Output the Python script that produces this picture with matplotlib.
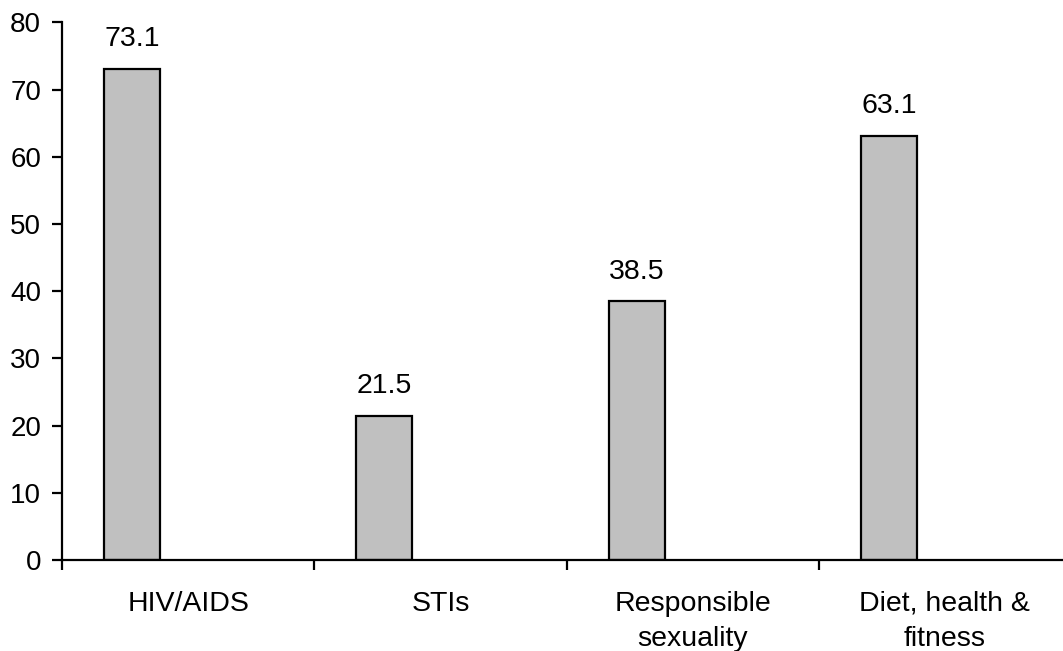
import matplotlib.pyplot as plt

# Data
categorias = ['HIV/AIDS', 'STIs', 'Responsible\nsexuality', 'Diet, health &\nfitness']
valores = [73.1, 21.5, 38.5, 63.1]
y_ticks = [0, 10, 20, 30, 40, 50, 60, 70, 80]

plt.rcParams['font.family'] = ['Liberation Sans', 'DejaVu Sans']

fig = plt.figure(figsize=(10.63, 6.51), dpi=100)
# axes runs a bit past the right edge, like the cropped original
ax = fig.add_axes([62 / 1063, 91 / 651, 1009 / 1063, 537.6 / 651])

pos = list(range(len(categorias)))
ancho = 0.222
# bars sit on the left part of each category slot
bars = ax.bar([p - 0.222 for p in pos], valores, width=ancho,
              color='#c0c0c0', edgecolor='black', linewidth=1.6)

for bar, v in zip(bars, valores):
    ax.annotate('%.1f' % v, (bar.get_x() + bar.get_width() / 2, v),
                xytext=(0, 12), textcoords='offset points',
                ha='center', va='bottom', fontsize=20.5)

ax.set_xlim(-0.5, 3.5)
ax.set_ylim(0, 80)
ax.set_yticks(y_ticks)
ax.tick_params(axis='y', labelsize=20, length=7, width=1.6, direction='out', pad=8)

# category separators as major ticks, labels on minor ticks
ax.set_xticks([p - 0.5 for p in pos] + [3.5])
ax.set_xticklabels([])
ax.tick_params(axis='x', which='major', length=7, width=1.6, direction='out')
ax.set_xticks(pos, minor=True)
ax.set_xticklabels(categorias, minor=True, fontsize=20.5, linespacing=1.45)
ax.tick_params(axis='x', which='minor', length=0, pad=22)

for s in ['top', 'right']:
    ax.spines[s].set_visible(False)
for s in ['left', 'bottom']:
    ax.spines[s].set_linewidth(1.6)

fig.savefig('out.png', dpi=100)
